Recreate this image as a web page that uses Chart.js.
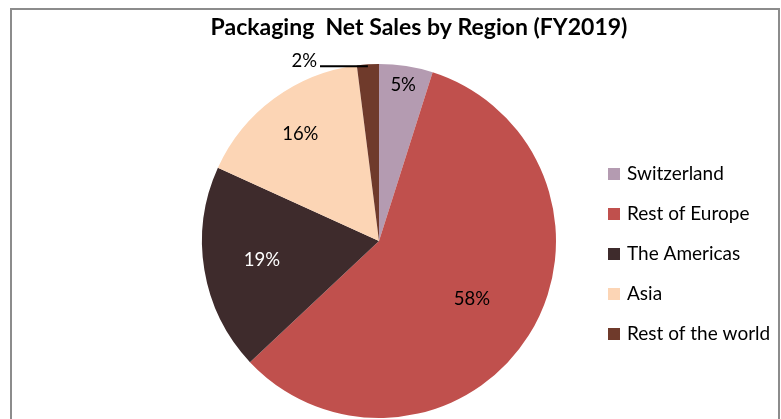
<!DOCTYPE html>
<html>
<head>
<meta charset="utf-8">
<script src="https://cdn.jsdelivr.net/npm/chart.js@4.4.1/dist/chart.umd.min.js"></script>
<style>
  html, body { margin: 0; padding: 0; background: #fff; }
  #wrap { position: relative; width: 781px; height: 419px; overflow: hidden; }
  #frame { position: absolute; left: 10px; top: 8px; width: 766px; height: 480px; border: 2px solid #8c8c8c; }
  #chart { position: absolute; left: 0; top: 0; }
</style>
</head>
<body>
<div id="wrap">
  <div id="frame"></div>
  <canvas id="chart" width="781" height="419"></canvas>
</div>
<script>
const chartTitle = "Packaging  Net Sales by Region (FY2019)";
const regions = ["Switzerland", "Rest of Europe", "The Americas", "Asia", "Rest of the world"];
const shares = [4.9, 58.1, 18.8, 16.2, 2.0];

document.addEventListener("DOMContentLoaded", function () {

    const colors = ["#b49bb1", "#c0504d", "#3e2b2c", "#fcd5b5", "#6f3a2b"];
    const labelColors = ["#000", "#000", "#fff", "#000", "#000"];
    // how far out (fraction of radius) each percent label sits
    const labelRadius = [0.89, 0.62, 0.67, 0.75, 0];
    const font = "Lato, 'Open Sans', sans-serif";

    const labelsPlugin = {
        id: "pieLabels",
        afterDraw(chart) {
            const ctx = chart.ctx;
            const meta = chart.getDatasetMeta(0);
            ctx.save();

            // title
            ctx.fillStyle = "#000";
            ctx.font = "bold 23px " + font;
            ctx.textAlign = "center";
            ctx.textBaseline = "middle";
            ctx.fillText(chartTitle, 419, 28);

            // percent labels
            ctx.font = "18.5px " + font;
            meta.data.forEach(function (arc, i) {
                const mid = (arc.startAngle + arc.endAngle) / 2;
                const text = Math.round(shares[i]) + "%";
                if (labelRadius[i] > 0) {
                    const r = arc.outerRadius * labelRadius[i];
                    ctx.fillStyle = labelColors[i];
                    ctx.textAlign = "center";
                    ctx.fillText(text, arc.x + Math.cos(mid) * r, arc.y + Math.sin(mid) * r);
                } else {
                    // small slice: label outside with a leader line
                    const ex = arc.x + Math.cos(mid) * arc.outerRadius;
                    const ey = arc.y + Math.sin(mid) * arc.outerRadius + 2;
                    ctx.strokeStyle = "#000";
                    ctx.lineWidth = 2;
                    ctx.beginPath();
                    ctx.moveTo(ex, ey);
                    ctx.lineTo(320, ey);
                    ctx.stroke();
                    ctx.fillStyle = "#000";
                    ctx.textAlign = "right";
                    ctx.fillText(text, 317, ey - 5);
                }
            });

            // legend
            ctx.font = "19px " + font;
            ctx.textAlign = "left";
            regions.forEach(function (name, i) {
                const y = 174 + i * 40;
                ctx.fillStyle = colors[i];
                ctx.fillRect(608, y - 6, 12, 12);
                ctx.fillStyle = "#000";
                ctx.fillText(name, 627, y);
            });
            ctx.restore();
        }
    };

    new Chart(document.getElementById("chart").getContext("2d"), {
        type: "pie",
        data: {
            labels: regions,
            datasets: [{
                data: shares,
                backgroundColor: colors,
                borderWidth: 0
            }]
        },
        options: {
            responsive: false,
            animation: false,
            layout: { padding: { left: 202, right: 225, top: 64, bottom: 1 } },
            plugins: {
                legend: { display: false },
                title: { display: false },
                tooltip: { enabled: false }
            }
        },
        plugins: [labelsPlugin]
    });

});
</script>
</body>
</html>
